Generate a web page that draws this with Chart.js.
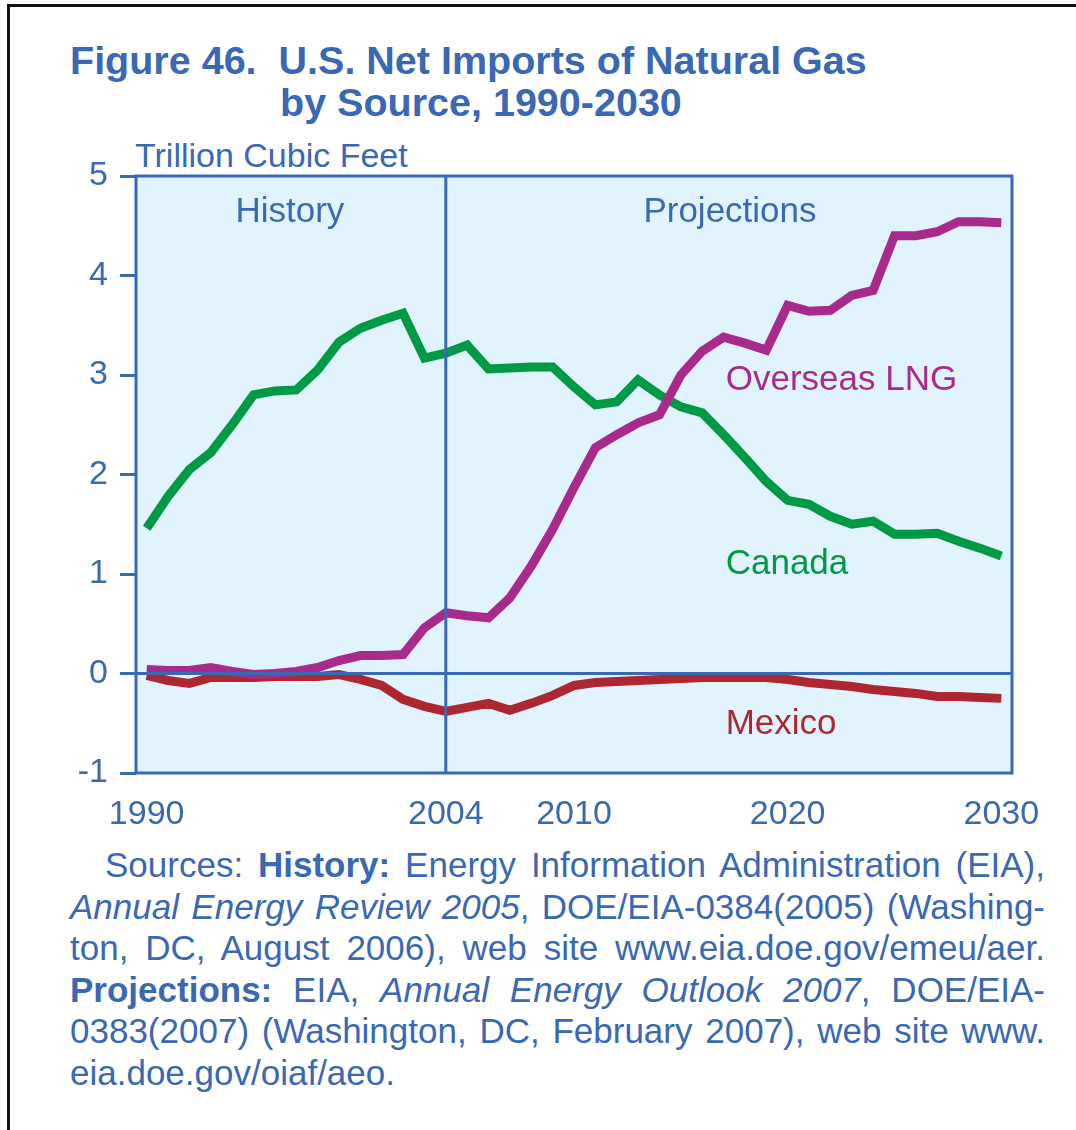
<!DOCTYPE html>
<html lang="en">
<head>
  <meta charset="UTF-8">
  <title>U.S. Net Imports of Natural Gas by Source, 1990-2030</title>
  <script src="https://cdn.jsdelivr.net/npm/chart.js"></script>
  <style>
    body {
      margin: 0;
      width: 1076px;
      height: 1130px;
      position: relative;
      background: #fff;
      overflow: hidden;
      font-family: "Liberation Sans", Arial, sans-serif;
      color: #3a68b2;
    }
    /* black frame, only left and top edges show */
    #frame {
      position: absolute;
      left: 7px; top: 4px; right: -10px; bottom: -10px;
      border-left: 3px solid #111;
      border-top: 3px solid #111;
    }
    .title {
      position: absolute;
      font-weight: bold;
      font-size: 39.5px;
      white-space: pre;
      line-height: 42px;
    }
    #unit {
      position: absolute;
      left: 135px; top: 135px;
      font-size: 34px;
      line-height: 40px;
    }
    #chartBox {
      position: absolute;
      left: 0; top: 140px;
    }
    #sources {
      position: absolute;
      left: 70px; top: 844px;
      width: 975px;
      font-size: 35px;
      line-height: 41.6px;
    }
    #sources div { text-align: justify; text-align-last: justify; white-space: nowrap; }
    #sources div.first { text-indent: 35px; }
    #sources div.last { text-align-last: left; }
  </style>
</head>
<body>
  <div id="frame"></div>
  <div class="title" style="left:70px; top:39px;">Figure 46.  U.S. Net Imports of Natural Gas</div>
  <div class="title" style="left:280px; top:81px;">by Source, 1990-2030</div>
  <div id="unit">Trillion Cubic Feet</div>

  <div id="chartBox"><canvas id="gasChart" width="1076" height="693"></canvas></div>

  <div id="sources">
    <div class="first">Sources: <b>History:</b> Energy Information Administration (EIA),</div>
    <div><i>Annual Energy Review 2005</i>, DOE/EIA-0384(2005) (Washing-</div>
    <div>ton, DC, August 2006), web site www.eia.doe.gov/emeu/aer.</div>
    <div><b>Projections:</b> EIA, <i>Annual Energy Outlook 2007</i>, DOE/EIA-</div>
    <div>0383(2007) (Washington, DC, February 2007), web site www.</div>
    <div class="last">eia.doe.gov/oiaf/aeo.</div>
  </div>

  <script>
    // years shown on the chart
    const years = [1990, 1991, 1992, 1993, 1994, 1995, 1996, 1997, 1998, 1999,
                   2000, 2001, 2002, 2003, 2004, 2005, 2006, 2007, 2008, 2009,
                   2010, 2011, 2012, 2013, 2014, 2015, 2016, 2017, 2018, 2019,
                   2020, 2021, 2022, 2023, 2024, 2025, 2026, 2027, 2028, 2029, 2030];

    // net imports, trillion cubic feet
    const overseasLng = [0.04, 0.03, 0.03, 0.06, 0.02, -0.01, 0.00, 0.02, 0.06, 0.13,
                         0.18, 0.18, 0.19, 0.46, 0.61, 0.58, 0.56, 0.76, 1.08, 1.45,
                         1.87, 2.27, 2.40, 2.52, 2.60, 3.00, 3.24, 3.38, 3.32, 3.25,
                         3.70, 3.64, 3.65, 3.80, 3.85, 4.40, 4.40, 4.44, 4.54, 4.54, 4.53];
    const canada = [1.46, 1.78, 2.05, 2.22, 2.50, 2.80, 2.84, 2.85, 3.05, 3.33,
                    3.47, 3.55, 3.62, 3.17, 3.22, 3.30, 3.06, 3.07, 3.08, 3.08,
                    2.88, 2.70, 2.73, 2.95, 2.80, 2.68, 2.62, 2.40, 2.17, 1.93,
                    1.74, 1.70, 1.58, 1.50, 1.53, 1.40, 1.40, 1.41, 1.33, 1.26, 1.18];
    const mexico = [-0.02, -0.07, -0.10, -0.04, -0.04, -0.04, -0.03, -0.03, -0.03, -0.01,
                    -0.06, -0.12, -0.26, -0.33, -0.38, -0.34, -0.30, -0.37, -0.30, -0.22,
                    -0.12, -0.09, -0.08, -0.07, -0.06, -0.05, -0.04, -0.04, -0.04, -0.04,
                    -0.06, -0.09, -0.11, -0.13, -0.16, -0.18, -0.20, -0.23, -0.23, -0.24, -0.25];

    const xTicks = [1990, 2004, 2010, 2020, 2030];
    const historyEnd = 2004;

    const blue = '#3a69b3';
    const font = '"Liberation Sans", Arial, sans-serif';

    function pts(values) {
      return years.map((y, i) => ({ x: y, y: values[i] }));
    }

    // plot background, zero line, 2004 divider, frame and the text labels
    const decor = {
      id: 'decor',
      beforeDatasetsDraw(chart) {
        const a = chart.chartArea, c = chart.ctx;
        c.save();
        c.fillStyle = '#e1f3fc';
        c.fillRect(a.left, a.top, a.right - a.left, a.bottom - a.top);
        c.restore();
      },
      afterDatasetsDraw(chart) {
        const a = chart.chartArea, c = chart.ctx;
        const xs = chart.scales.x, ys = chart.scales.y;
        c.save();
        c.strokeStyle = blue;
        c.lineWidth = 3;
        const y0 = ys.getPixelForValue(0);
        const xd = xs.getPixelForValue(historyEnd);
        c.beginPath();
        c.moveTo(a.left, y0); c.lineTo(a.right, y0);
        c.moveTo(xd, a.top); c.lineTo(xd, a.bottom);
        c.stroke();
        c.strokeRect(a.left, a.top, a.right - a.left, a.bottom - a.top);

        c.font = '35px ' + font;
        c.textBaseline = 'alphabetic';
        c.textAlign = 'center';
        c.fillStyle = blue;
        c.fillText('History', xs.getPixelForValue(1996.7), ys.getPixelForValue(4.54));
        c.fillText('Projections', xs.getPixelForValue(2017.3), ys.getPixelForValue(4.54));
        c.textAlign = 'left';
        c.fillStyle = '#a82a8c';
        c.fillText('Overseas LNG', xs.getPixelForValue(2017.1), ys.getPixelForValue(2.85));
        c.fillStyle = '#009a44';
        c.fillText('Canada', xs.getPixelForValue(2017.1), ys.getPixelForValue(1.0));
        c.fillStyle = '#ad2630';
        c.fillText('Mexico', xs.getPixelForValue(2017.1), ys.getPixelForValue(-0.61));
        c.restore();
      }
    };

    const ctx = document.getElementById('gasChart').getContext('2d');
    new Chart(ctx, {
      type: 'line',
      data: {
        datasets: [
          { label: 'Overseas LNG', data: pts(overseasLng), borderColor: '#a82a8c' },
          { label: 'Canada', data: pts(canada), borderColor: '#009a44' },
          { label: 'Mexico', data: pts(mexico), borderColor: '#ad2630' }
        ]
      },
      options: {
        responsive: false,
        animation: false,
        layout: { padding: { left: 70, top: 36, right: 64, bottom: 0 } },
        elements: {
          line: { borderWidth: 9, tension: 0, fill: false },
          point: { radius: 0 }
        },
        plugins: {
          legend: { display: false },
          tooltip: { enabled: false }
        },
        scales: {
          x: {
            type: 'linear',
            min: 1989.5,
            max: 2030.5,
            afterBuildTicks: s => { s.ticks = xTicks.map(v => ({ value: v })); },
            afterFit: s => { s.height = 60; },
            grid: { display: false },
            border: { display: false },
            ticks: {
              autoSkip: false,
              maxRotation: 0,
              padding: 13,
              color: blue,
              font: { family: font, size: 34 },
              callback: v => String(v)
            }
          },
          y: {
            min: -1,
            max: 5,
            afterFit: s => { s.width = 66; },
            grid: {
              drawOnChartArea: false,
              drawTicks: true,
              tickLength: 16,
              tickColor: blue,
              tickWidth: 3,
              color: blue
            },
            border: { display: false },
            ticks: {
              stepSize: 1,
              padding: 12,
              color: blue,
              font: { family: font, size: 34 }
            }
          }
        }
      },
      plugins: [decor]
    });
  </script>
</body>
</html>
